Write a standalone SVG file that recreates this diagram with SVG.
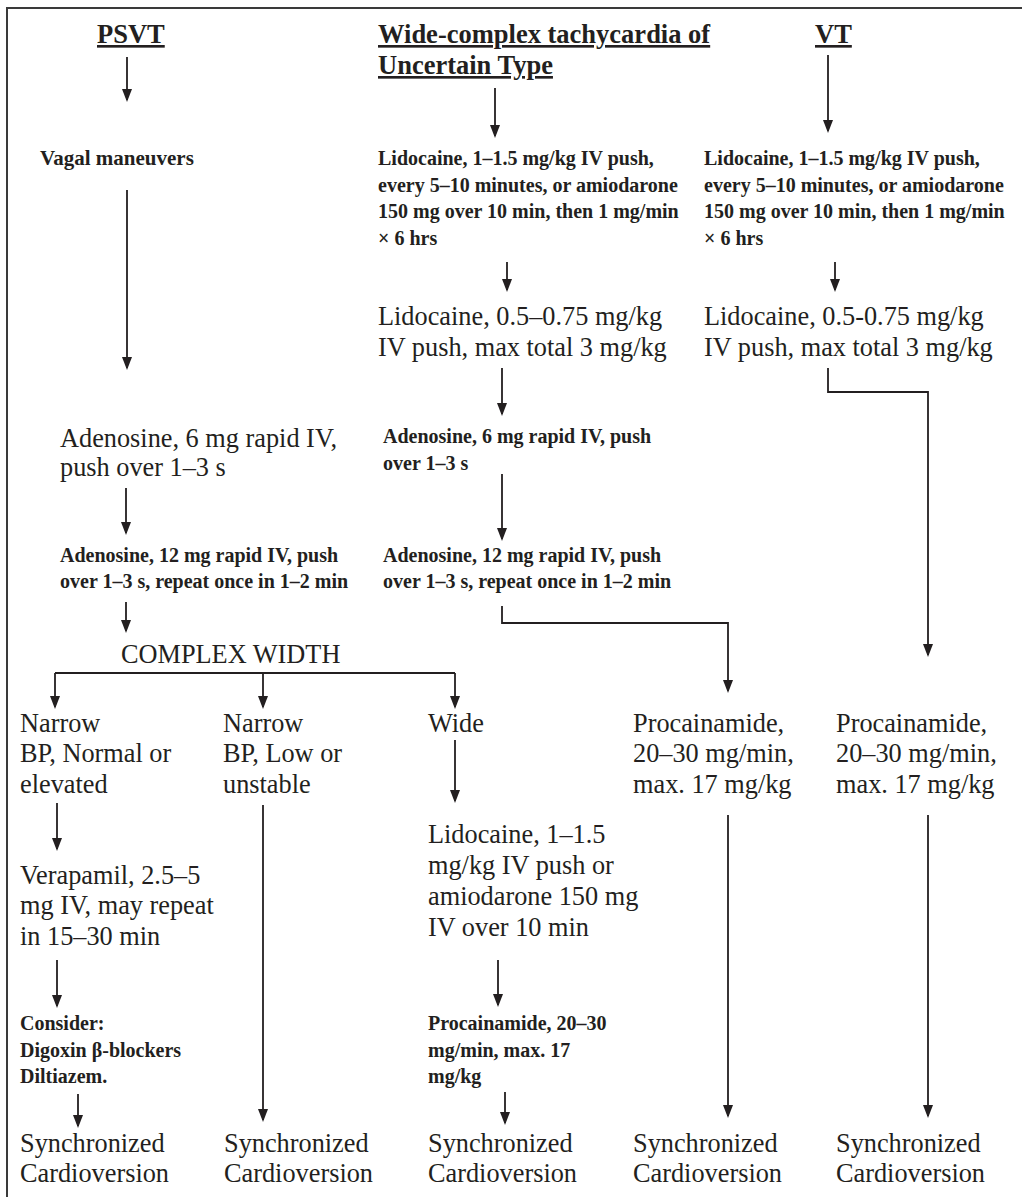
<svg xmlns="http://www.w3.org/2000/svg" width="1022" height="1197" viewBox="0 0 1022 1197">
<defs>
<style>
text{font-family:"Liberation Serif","Times New Roman",serif;fill:#231f20}
.r{font-size:26.3px}
.b{font-size:20px;font-weight:bold}
.h{font-size:26.5px;font-weight:bold;text-decoration:underline}
.c{fill:none;stroke:#231f20;stroke-width:1.8}
.frame{fill:none;stroke:#3a3a3a;stroke-width:2}
</style>
<marker id="ah" markerUnits="userSpaceOnUse" markerWidth="13" markerHeight="10" refX="11" refY="5" orient="auto">
<path d="M0,0 L13,5 L0,10 z" fill="#231f20"/>
</marker>
</defs>
<rect width="1022" height="1197" fill="#fff"/>
<path class="frame" d="M7,1197 V8 H1022"/>

<g id="connectors">
<path class="c" marker-end="url(#ah)" d="M127,57 V100"/>
<path class="c" marker-end="url(#ah)" d="M495,88 V136"/>
<path class="c" marker-end="url(#ah)" d="M828,55 V131"/>
<path class="c" marker-end="url(#ah)" d="M127,190 V368"/>
<path class="c" marker-end="url(#ah)" d="M507,262 V290"/>
<path class="c" marker-end="url(#ah)" d="M835,262 V290"/>
<path class="c" marker-end="url(#ah)" d="M502,368 V414"/>
<path class="c" marker-end="url(#ah)" d="M126,488 V533"/>
<path class="c" marker-end="url(#ah)" d="M502,474 V539"/>
<path class="c" marker-end="url(#ah)" d="M126,602 V631"/>
<path class="c" marker-end="url(#ah)" d="M502,606 V623 H728 V691"/>
<path class="c" marker-end="url(#ah)" d="M828,368 V392 H928 V655"/>
<path class="c" d="M55,673 H455"/>
<path class="c" marker-end="url(#ah)" d="M55,673 V707"/>
<path class="c" marker-end="url(#ah)" d="M263,673 V707"/>
<path class="c" marker-end="url(#ah)" d="M455,673 V707"/>
<path class="c" marker-end="url(#ah)" d="M57,803 V849"/>
<path class="c" marker-end="url(#ah)" d="M263,805 V1120"/>
<path class="c" marker-end="url(#ah)" d="M455,740 V801"/>
<path class="c" marker-end="url(#ah)" d="M728,815 V1116"/>
<path class="c" marker-end="url(#ah)" d="M928,815 V1116"/>
<path class="c" marker-end="url(#ah)" d="M57,960 V1006"/>
<path class="c" marker-end="url(#ah)" d="M498,960 V1005"/>
<path class="c" marker-end="url(#ah)" d="M78,1094 V1126"/>
<path class="c" marker-end="url(#ah)" d="M505,1092 V1123"/>
</g>

<g id="psvt"><text class="h" x="97" y="43">PSVT</text></g>
<g id="wide-header"><text class="h" x="378" y="43">Wide-complex tachycardia of</text><text class="h" x="378" y="74">Uncertain Type</text></g>
<g id="vt"><text class="h" x="815" y="43">VT</text></g>

<g id="vagal"><text class="b" x="40" y="165" style="font-size:21px">Vagal maneuvers</text></g>
<g id="lido1-mid"><text class="b" x="378" y="165">Lidocaine, 1–1.5 mg/kg IV push,</text><text class="b" x="378" y="191.5">every 5–10 minutes, or amiodarone</text><text class="b" x="378" y="218">150 mg over 10 min, then 1 mg/min</text><text class="b" x="378" y="244.5">× 6 hrs</text></g>
<g id="lido1-vt"><text class="b" x="704" y="165">Lidocaine, 1–1.5 mg/kg IV push,</text><text class="b" x="704" y="191.5">every 5–10 minutes, or amiodarone</text><text class="b" x="704" y="218">150 mg over 10 min, then 1 mg/min</text><text class="b" x="704" y="244.5">× 6 hrs</text></g>

<g id="lido2-mid"><text class="r" x="378" y="325">Lidocaine, 0.5–0.75 mg/kg</text><text class="r" x="378" y="355.5">IV push, max total 3 mg/kg</text></g>
<g id="lido2-vt"><text class="r" x="704" y="325">Lidocaine, 0.5-0.75 mg/kg</text><text class="r" x="704" y="355.5">IV push, max total 3 mg/kg</text></g>

<g id="adeno6-psvt"><text class="r" x="60" y="446.5">Adenosine, 6 mg rapid IV,</text><text class="r" x="60" y="476">push over 1–3 s</text></g>
<g id="adeno6-mid"><text class="b" x="383" y="443">Adenosine, 6 mg rapid IV, push</text><text class="b" x="383" y="470">over 1–3 s</text></g>

<g id="adeno12-psvt"><text class="b" x="60" y="561.5">Adenosine, 12 mg rapid IV, push</text><text class="b" x="60" y="588">over 1–3 s, repeat once in 1–2 min</text></g>
<g id="adeno12-mid"><text class="b" x="383" y="561.5">Adenosine, 12 mg rapid IV, push</text><text class="b" x="383" y="588">over 1–3 s, repeat once in 1–2 min</text></g>

<g id="complex-width"><text class="r" x="121" y="663">COMPLEX WIDTH</text></g>

<g id="narrow-normal"><text class="r" x="20" y="731.5">Narrow</text><text class="r" x="20" y="762">BP, Normal or</text><text class="r" x="20" y="792.5">elevated</text></g>
<g id="narrow-low"><text class="r" x="223" y="731.5">Narrow</text><text class="r" x="223" y="762">BP, Low or</text><text class="r" x="223" y="792.5">unstable</text></g>
<g id="wide"><text class="r" x="428" y="731.5">Wide</text></g>
<g id="proc-mid"><text class="r" x="633" y="731.5">Procainamide,</text><text class="r" x="633" y="762">20–30 mg/min,</text><text class="r" x="633" y="792.5">max. 17 mg/kg</text></g>
<g id="proc-vt"><text class="r" x="836" y="731.5">Procainamide,</text><text class="r" x="836" y="762">20–30 mg/min,</text><text class="r" x="836" y="792.5">max. 17 mg/kg</text></g>

<g id="verapamil"><text class="r" x="20" y="883.5">Verapamil, 2.5–5</text><text class="r" x="20" y="914">mg IV, may repeat</text><text class="r" x="20" y="944.5">in 15–30 min</text></g>
<g id="lido-wide"><text class="r" x="428" y="843">Lidocaine, 1–1.5</text><text class="r" x="428" y="874">mg/kg IV push or</text><text class="r" x="428" y="905">amiodarone 150 mg</text><text class="r" x="428" y="936">IV over 10 min</text></g>

<g id="consider"><text class="b" x="20" y="1030">Consider:</text><text class="b" x="20" y="1056.5">Digoxin β-blockers</text><text class="b" x="20" y="1083">Diltiazem.</text></g>
<g id="proc-wide"><text class="b" x="428" y="1030">Procainamide, 20–30</text><text class="b" x="428" y="1056.5">mg/min, max. 17</text><text class="b" x="428" y="1083">mg/kg</text></g>

<g id="cv1"><text class="r" x="20" y="1151.5">Synchronized</text><text class="r" x="20" y="1181.5">Cardioversion</text></g>
<g id="cv2"><text class="r" x="224" y="1151.5">Synchronized</text><text class="r" x="224" y="1181.5">Cardioversion</text></g>
<g id="cv3"><text class="r" x="428" y="1151.5">Synchronized</text><text class="r" x="428" y="1181.5">Cardioversion</text></g>
<g id="cv4"><text class="r" x="633" y="1151.5">Synchronized</text><text class="r" x="633" y="1181.5">Cardioversion</text></g>
<g id="cv5"><text class="r" x="836" y="1151.5">Synchronized</text><text class="r" x="836" y="1181.5">Cardioversion</text></g>
</svg>
